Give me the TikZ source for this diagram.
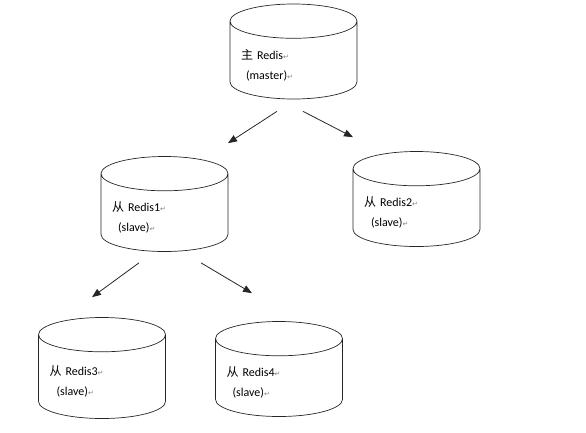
\documentclass[tikz,border=0pt]{standalone}
\usepackage{fontspec}
\setmainfont{Carlito}
\newfontfamily\cjk{Noto Sans CJK SC}
\newfontfamily\retfont{DejaVu Sans}
\usetikzlibrary{arrows.meta, shapes.geometric}
\newcommand{\pmark}{{\retfont\fontsize{7}{7}\selectfont\textcolor{gray}{↵}}}

\begin{document}
\begin{tikzpicture}[x=1pt,y=-1pt,line width=0.7pt]
   \tikzstyle{cyl}=[draw=black!85,shape=cylinder,shape border rotate=90,aspect=0.27,
                    minimum height=95pt,anchor=shape center,inner xsep=11pt,inner ysep=0pt,
                    text width=105pt,align=left,font=\fontsize{12}{20}\selectfont]
   \tikzstyle{arr}=[-{Triangle[length=9pt,width=7pt]},line width=0.8pt,black!85]

   \useasboundingbox (0,0) rectangle (586,432);

   % cylinders
   \node[cyl]         (master) at (293.5,51.5)
        {{\cjk 主} Redis\pmark\\\hspace*{5pt}(master)\pmark};
   \node[cyl]         (slave1) at (164.5,204)
        {{\cjk 从} Redis1\pmark\\\hspace*{6pt}(slave)\pmark};
   \node[cyl]         (slave2) at (416.5,199)
        {{\cjk 从} Redis2\pmark\\\hspace*{7pt}(slave)\pmark};
   \node[cyl, minimum height=101pt] (slave3) at (102,368)
        {{\cjk 从} Redis3\pmark\\\hspace*{7pt}(slave)\pmark};
   \node[cyl]         (slave4) at (279,369)
        {{\cjk 从} Redis4\pmark\\\hspace*{6pt}(slave)\pmark};

   % replication
   \draw[arr] ([xshift=-16.5pt,yshift=-12pt]master.south) -- ([xshift=63.5pt,yshift=13pt]slave1.north);
   \draw[arr] ([xshift=9.5pt,yshift=-12pt]master.south)   -- ([xshift=-63.5pt,yshift=14pt]slave2.north);
   \draw[arr] ([xshift=-25.5pt,yshift=-11pt]slave1.south) -- ([xshift=-10pt,yshift=20pt]slave3.north);
   \draw[arr] ([xshift=36.5pt,yshift=-11pt]slave1.south)  -- ([xshift=-27pt,yshift=28pt]slave4.north);
\end{tikzpicture}
\end{document}
